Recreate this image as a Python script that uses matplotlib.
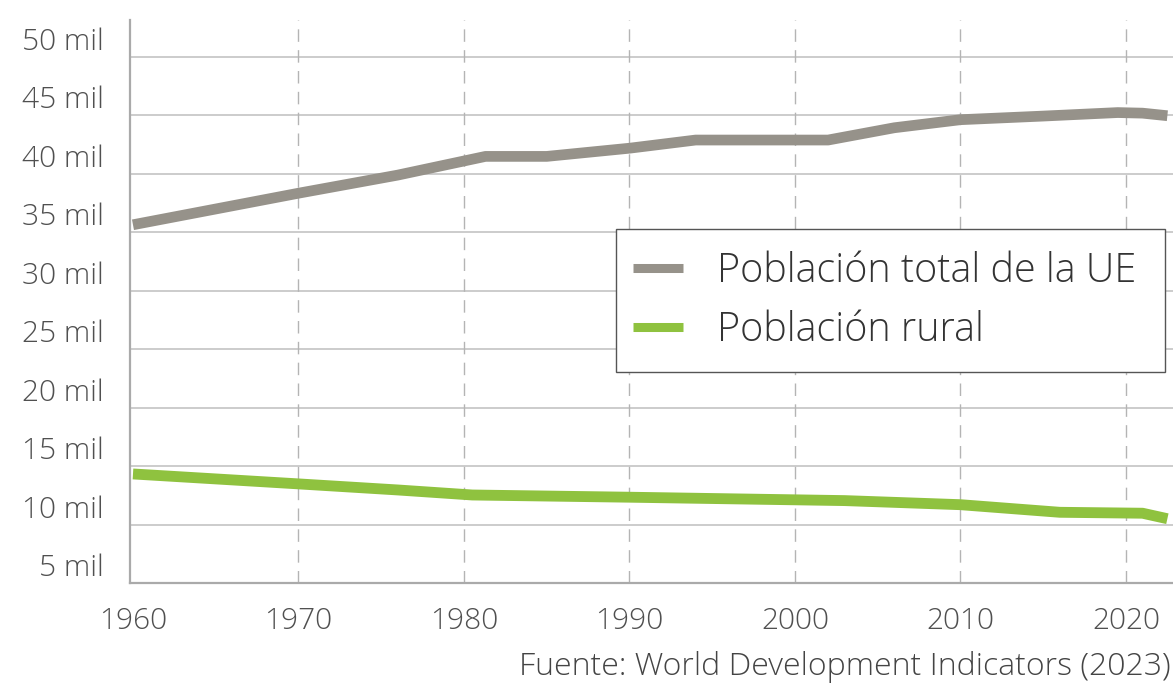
import matplotlib
matplotlib.use("Agg")
import matplotlib.pyplot as plt
from matplotlib.patches import Rectangle

# datos (millones)
anios_total = [1960, 1970, 1976, 1981.3, 1985, 1990, 1994, 2002, 2006, 2010, 2015, 2019.5, 2021, 2022.5]
poblacion_total = [35.65, 38.35, 39.9, 41.5, 41.5, 42.2, 42.9, 42.9, 43.95, 44.64, 44.95, 45.25, 45.2, 44.98]

anios_rural = [1960, 1970, 1976, 1980.5, 1990, 2003, 2010, 2016, 2021, 2022.5]
poblacion_rural = [14.33, 13.48, 12.96, 12.53, 12.34, 12.05, 11.7, 11.05, 10.97, 10.5]

yticks = [5, 10, 15, 20, 25, 30, 35, 40, 45, 50]
ytick_labels = [str(v) + " mil" for v in yticks]
xticks = [1960, 1970, 1980, 1990, 2000, 2010, 2020]

gris = "#96928a"
verde = "#8fc23f"
texto = "#505050"

plt.rcParams['font.family'] = ['Open Sans', 'DejaVu Sans']

fig = plt.figure(figsize=(11.73, 6.88), dpi=100)
ax = fig.add_axes([130 / 1173, 105 / 688, 1043 / 1173, 563 / 688])

# rejilla
for y in yticks[1:]:
    ax.axhline(y, color="#c8c8c8", lw=1.3, zorder=1)
for x in xticks[1:]:
    ax.axvline(x, color="#b4b4b4", lw=1.0, ls=(0, (9, 6)), zorder=1)

ax.plot(anios_total, poblacion_total, color=gris, lw=7.7, solid_capstyle="butt",
        solid_joinstyle="round", label="Población total de la UE", zorder=3)
ax.plot(anios_rural, poblacion_rural, color=verde, lw=7.8, solid_capstyle="butt",
        solid_joinstyle="round", label="Población rural", zorder=3)

ax.set_xlim(1959.82, 2022.84)
ax.set_ylim(5, 53.17)

ax.set_yticks(yticks)
ax.set_yticklabels(ytick_labels)
for lab in ax.get_yticklabels():
    lab.set_va("bottom")
ax.set_xticks(xticks)

ax.tick_params(axis="both", length=0, labelsize=21.5, labelcolor=texto)
ax.tick_params(axis="y", pad=19)
ax.tick_params(axis="x", pad=17)
for lab in ax.get_xticklabels() + ax.get_yticklabels():
    lab.set_fontweight("light")

for s in ["top", "right"]:
    ax.spines[s].set_visible(False)
for s in ["left", "bottom"]:
    ax.spines[s].set_color("#aaaaaa")
    ax.spines[s].set_linewidth(1.6)

# marco de la leyenda
marco = Rectangle((616 / 1173, 1 - 372 / 688), 549 / 1173, 143 / 688,
                  transform=fig.transFigure, facecolor="white",
                  edgecolor="#555555", lw=1.0, zorder=4, clip_on=False)
ax.add_patch(marco)

leg = ax.legend(loc="upper left", bbox_to_anchor=(633 / 1173, 1 - 251 / 688),
                bbox_transform=fig.transFigure, fontsize=28.5, frameon=False,
                borderaxespad=0, borderpad=0, handlelength=1.26,
                handletextpad=0.86, labelspacing=0.45)
leg.set_zorder(6)
for t in leg.get_texts():
    t.set_color("#333333")
    t.set_fontweight("light")
for h in leg.get_lines():
    h.set_linewidth(6.5)

fig.text(1171 / 1173, 1 - 667 / 688, "Fuente: World Development Indicators (2023)",
         ha="right", va="center", fontsize=23, color="#444444", fontweight="light")

fig.savefig("out.png", dpi=100)
